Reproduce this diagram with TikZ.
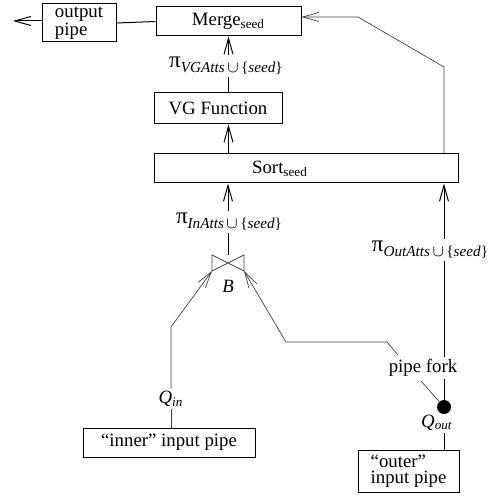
\documentclass[tikz,border=0pt]{standalone}
\usepackage{fontspec}
\setmainfont{Liberation Serif}
\usetikzlibrary{arrows.meta}
\newcommand{\projsub}[1]{{\fontsize{11.5}{12}\selectfont π}\raisebox{-2.6pt}{\fontsize{7.6}{8}\selectfont #1}}
\tikzset{
  box/.style={draw, line width=0.5pt, inner sep=0pt},
  flow/.style={line width=0.5pt, -{Straight Barb[length=8pt,width=4.5pt]}},
  thinflow/.style={line width=0.35pt, black!75, -{Straight Barb[length=8pt,width=4.5pt]}},
  wire/.style={line width=0.5pt},
  thinwire/.style={line width=0.35pt, black!75},
  lbl/.style={inner sep=1pt, font=\fontsize{9.4}{8}\selectfont}
}
\begin{document}
\begin{tikzpicture}[x=0.5pt,y=-0.5pt, font=\fontsize{9.4}{7.6}\selectfont]
			%%%%% START %%%%%
			\useasboundingbox (0,0) rectangle (495,496);
			
			% boxes
			\node[box, minimum width=37pt, minimum height=19pt, align=left] (outpipe) at (79,23) {output\\pipe};
			\node[box, minimum width=72.5pt, minimum height=14.5pt] (merge) at (228.5,21.5) {Merge\textsubscript{seed}};
			\node[box, minimum width=64pt, minimum height=15.5pt] (vgf) at (218,108.5) {VG Function};
			\node[box, minimum width=152pt, minimum height=14.5pt,
			      label={[lbl, xshift=-13pt]center:Sort\textsubscript{seed}}] (sort) at (306,168.5) {};
			\node[box, minimum width=86pt, minimum height=14.5pt] (inner) at (169,442.5) {``inner'' input pipe};
			\node[box, minimum width=50.5pt, minimum height=21pt, align=left,
			      font=\fontsize{9.4}{8.2}\selectfont] (outer) at (408.5,471) {``outer''\\input pipe};
			
			% projections
			\node[lbl] (pivg) at (226,66) {\projsub{\textit{VGAtts}\,$\cup$\,\{\textit{seed}\}}};
			\node[lbl] (piin) at (229,222) {\projsub{\textit{InAtts}\,$\cup$\,\{\textit{seed}\}}};
			\node[lbl] (piout) at (430,250) {\projsub{\textit{OutAtts}\,$\cup$\,\{\textit{seed}\}}};
			
			% join
			\coordinate (join) at (228,255);
			\coordinate (joinl) at (212,271);
			\coordinate (joinr) at (244,271);
			\draw[thinwire] (212,255) -- (joinl) -- (244,255) -- (joinr) -- cycle;
			\node[lbl] (bjoin) at (228,286) {\textit{B}};
			
			% inputs
			\node[lbl] (qin) at (171,399) {\textit{Q}\textsubscript{\textit{in}}};
			\node[lbl] (qout) at (437,423) {\textit{Q}\textsubscript{\textit{out}}};
			\node[circle, fill=black, inner sep=0pt, minimum size=7pt] (fork) at (444,407) {};
			
			% output side
			\coordinate (outend) at (13,21);
			\draw[flow] (outpipe.west |- outend) -- (outend);
			\draw[wire] (merge.west) -- (outpipe.east);
			\draw[flow] (pivg.north -| merge.south) -- (merge.south);
			\draw[wire] (vgf.north -| merge.south) -- (pivg.south -| merge.south);
			\draw[flow] (sort.north -| merge.south) -- (vgf.south -| merge.south);
			\draw[flow] (piin.north -| join) -- (sort.south -| join);
			\draw[wire] (join) -- (piin.south -| join);
			
			% outer feedback to merge
			\coordinate (bendA) at (444,67);
			\coordinate (bendB) at (358,17);
			\draw[thinflow] (sort.north -| bendA) -- (bendA) -- (bendB) -- (merge.east |- bendB);
			\draw[flow] (piout.north -| fork) -- (sort.south -| fork);
			
			% inner branch
			\coordinate (bendC) at (171,327);
			\draw[thinwire] (inner.north -| qin) -- (qin.south);
			\draw[thinflow] (qin.north) -- (bendC) -- (joinl);
			
			% outer branch
			\draw[wire] (fork) -- (piout.south -| fork);
			\node[lbl, fill=white] (forklbl) at (423,368) {pipe fork};
			\coordinate (bendD) at (398,355);
			\coordinate (bendE) at (387,342);
			\coordinate (bendF) at (286,342);
			\draw[thinflow] (bendD) -- (bendE) -- (bendF) -- (joinr);
			\draw[thinwire] (forklbl.south) ++(-2,2) -- (fork);
			\draw[wire] (outer.north -| fork) -- (qout.south -| fork);
			\draw[wire] (qout.north -| fork) -- (fork);
			
			%%%%% END %%%%%
\end{tikzpicture}
\end{document}
